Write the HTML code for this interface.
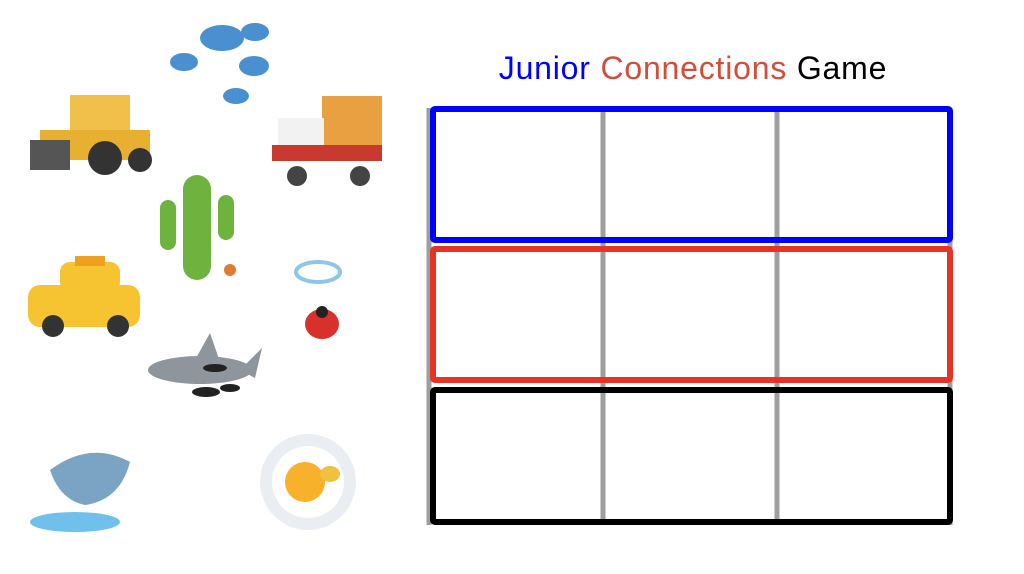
<!DOCTYPE html>
<html><head><meta charset="utf-8"><style>
html,body{margin:0;padding:0;background:#fff;}
body{width:1024px;height:574px;position:relative;overflow:hidden;font-family:"Liberation Sans",sans-serif;}
.title{position:absolute;left:420px;width:546px;top:50px;text-align:center;font-size:32px;letter-spacing:0.8px;}
svg{position:absolute;left:0;top:0;}
</style></head><body>
<svg width="1024" height="574" viewBox="0 0 1024 574">
<g stroke="#9e9e9e" stroke-width="5" fill="none">
<line x1="429" y1="108" x2="429" y2="525"/>
<line x1="603" y1="108" x2="603" y2="525"/>
<line x1="777" y1="108" x2="777" y2="525"/>
<line x1="950" y1="108" x2="950" y2="525"/>
</g>
<rect x="433" y="109" width="517" height="131" fill="none" stroke="#0000ff" stroke-width="6" rx="2"/>
<rect x="433" y="249" width="517" height="131" fill="none" stroke="#e53426" stroke-width="6" rx="2"/>
<rect x="433" y="390" width="517" height="132" fill="none" stroke="#000" stroke-width="6" rx="2"/>
<g fill="#4a8fd0">
<ellipse cx="222" cy="38" rx="22" ry="13"/><ellipse cx="255" cy="32" rx="14" ry="9"/>
<ellipse cx="184" cy="62" rx="14" ry="9"/><ellipse cx="254" cy="66" rx="15" ry="10"/>
<ellipse cx="236" cy="96" rx="13" ry="8"/>
</g>
<g><rect x="70" y="95" width="60" height="45" fill="#f0c04a"/><rect x="40" y="130" width="110" height="30" fill="#e8b030"/>
<rect x="30" y="140" width="40" height="30" fill="#555"/><circle cx="105" cy="158" r="17" fill="#333"/><circle cx="140" cy="160" r="12" fill="#333"/></g>
<g><rect x="322" y="96" width="60" height="62" fill="#e8a040"/><rect x="278" y="118" width="46" height="42" fill="#f2f2f2"/>
<rect x="272" y="145" width="110" height="16" fill="#c83a30"/><circle cx="297" cy="176" r="10" fill="#444"/><circle cx="360" cy="176" r="10" fill="#444"/></g>
<g fill="#6fb33f"><rect x="183" y="175" width="28" height="105" rx="14"/><rect x="160" y="200" width="16" height="50" rx="8"/><rect x="218" y="195" width="16" height="45" rx="8"/></g>
<circle cx="230" cy="270" r="6" fill="#e07a30"/>
<g><rect x="60" y="262" width="60" height="30" rx="10" fill="#f5c430"/><rect x="28" y="285" width="112" height="42" rx="12" fill="#f5c430"/>
<rect x="75" y="256" width="30" height="10" fill="#f0a020"/><circle cx="53" cy="326" r="11" fill="#333"/><circle cx="118" cy="326" r="11" fill="#333"/></g>
<ellipse cx="318" cy="272" rx="22" ry="10" fill="none" stroke="#8cc6e8" stroke-width="4"/>
<ellipse cx="322" cy="324" rx="17" ry="15" fill="#d8302a"/><circle cx="322" cy="312" r="6" fill="#222"/>
<g fill="#8e959c"><ellipse cx="200" cy="370" rx="52" ry="14"/><polygon points="195,360 210,333 220,362"/><polygon points="240,370 262,348 255,378"/></g>
<g fill="#222"><ellipse cx="215" cy="368" rx="12" ry="4"/><ellipse cx="206" cy="392" rx="14" ry="5"/><ellipse cx="230" cy="388" rx="10" ry="4"/></g>
<g><path d="M50,470 Q90,440 130,462 Q120,500 85,505 Q60,500 50,470Z" fill="#7ba4c4"/><ellipse cx="75" cy="522" rx="45" ry="10" fill="#6fc0ea"/></g>
<g><circle cx="308" cy="482" r="48" fill="#eaeef2"/><circle cx="308" cy="482" r="36" fill="#fff"/><circle cx="305" cy="482" r="20" fill="#f7b12a"/><ellipse cx="330" cy="474" rx="10" ry="8" fill="#f0c040"/></g>
</svg>
<div class="title"><span style="color:#0000ff">Junior</span> <span style="color:#d14f3a">Connections</span> <span style="color:#000">Game</span></div>
</body></html>
